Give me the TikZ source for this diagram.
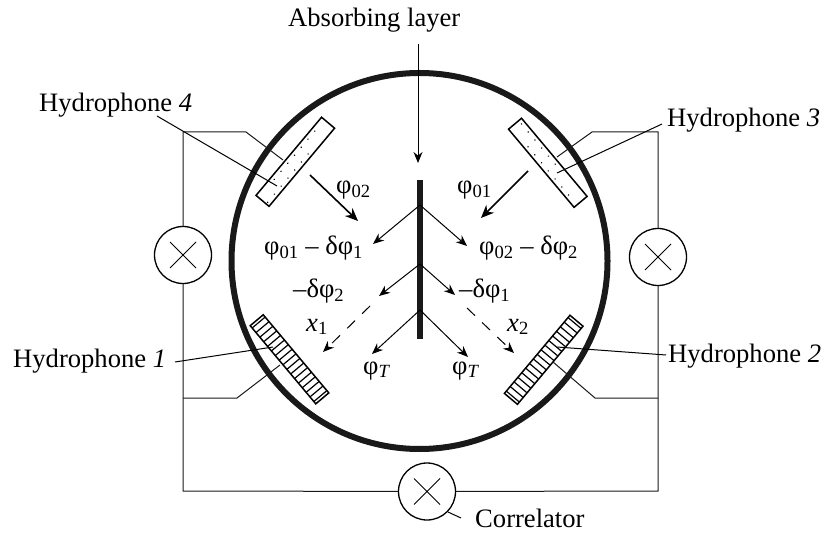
\documentclass[tikz,border=0pt]{standalone}
\usepackage{fontspec}
\setmainfont{Liberation Serif}
\usetikzlibrary{arrows.meta}
\begin{document}
\begin{tikzpicture}[
        x=1pt, y=-1pt,
        label/.style={inner sep=0pt, font=\fontsize{26.6}{30}\selectfont},
        wire/.style={line width=1pt, color=black!90},
        leader/.style={line width=1pt},
        ray/.style={-{Stealth[length=11pt, width=9pt]}, line width=1pt},
        raydash/.style={-{Stealth[length=11pt, width=9pt]}, line width=1pt, dash pattern=on 11pt off 10pt},
        bigray/.style={-{Stealth[length=13pt, width=11pt]}, line width=1.6pt},
        mixer/.style={circle, draw, line width=1.3pt, fill=white, minimum size=57pt, inner sep=0pt,
            path picture={\draw[line width=0.8pt] (-13,-13) -- (13,13) (-13,13) -- (13,-13);}},
        strip/.style={rectangle, draw, line width=1.5pt, fill=white, minimum width=102pt, minimum height=17pt, inner sep=0pt},
        hatched/.style={strip, path picture={\foreach \t in {-48,-42,...,48} \draw[line width=1.2pt] (\t,-9) -- (\t,9);}},
        speckA/.style={strip, path picture={
            \foreach \t in {-27,-16.5,...,37} \fill[black] (\t,-4.8) circle (0.8);
            \foreach \t in {-48.7,-38.2,...,15} \fill[black] (\t,4.8) circle (0.8);}},
        speckB/.style={strip, path picture={
            \foreach \t in {-46.7,-36.2,...,16} \fill[black] (\t,-4.8) circle (0.8);
            \foreach \t in {-25,-14.5,...,40} \fill[black] (\t,4.8) circle (0.8);}}
    ]
        \useasboundingbox (0,0) rectangle (821,534);

        % vessel and absorbing layer
        \node[circle, draw=black!90, line width=6pt, minimum size=376pt, inner sep=0pt] (vessel) at (419.5,261) {};
        \node[rectangle, fill=black!90, minimum width=5.5pt, minimum height=159pt, inner sep=0pt] (layer) at (420,259.5) {};

        % hydrophones
        \node[hatched, rotate=-50] (hyd1) at (289.5,359.3) {};
        \node[hatched, rotate=50] (hyd2) at (543.7,359.8) {};
        \node[speckB, rotate=-50] (hyd3) at (547.8,162.8) {};
        \node[speckA, rotate=50] (hyd4) at (295.3,161.8) {};

        % multipliers
        \node[mixer] (mixL) at (183,255) {};
        \node[mixer] (mixR) at (658,257) {};
        \node[mixer] (mixB) at (427,491.5) {};

        % wiring
        \coordinate (wire4) at (283,160);
        \coordinate (bend4) at (246,132);
        \coordinate (top4) at (183,132);
        \coordinate (wire3) at (557,157);
        \coordinate (bend3) at (592,132);
        \coordinate (top3) at (658,132);
        \coordinate (wire1) at (280,365);
        \coordinate (bend1) at (237,398);
        \coordinate (tee1) at (183,398);
        \coordinate (wire2) at (553,362);
        \coordinate (bend2) at (595,398);
        \coordinate (tee2) at (658,398);
        \coordinate (low1) at (183,491);
        \coordinate (low2) at (658,491);
        \draw[wire] (wire4) -- (bend4) -- (top4) -- (mixL);
        \draw[wire] (wire3) -- (bend3) -- (top3) -- (mixR);
        \draw[wire] (wire1) -- (bend1) -- (tee1);
        \draw[wire] (wire2) -- (bend2) -- (tee2);
        \draw[wire] (mixL) -- (low1) -- (mixB);
        \draw[wire] (mixR) -- (low2) -- (mixB);

        % labels
        \node[label, anchor=base west] (absorb) at (288,27) {Absorbing layer};
        \node[label, anchor=base west] (lab4) at (39,112) {Hydrophone \textit{4}};
        \node[label, anchor=base west] (lab3) at (667,127) {Hydrophone \textit{3}};
        \node[label, anchor=base west] (lab1) at (13,367) {Hydrophone \textit{1}};
        \node[label, anchor=base west] (lab2) at (668,362) {Hydrophone \textit{2}};
        \node[label, anchor=base west] (labC) at (475,527) {Correlator};

        % leaders
        \coordinate (tip4) at (277,186);
        \coordinate (tip3) at (557,173);
        \coordinate (tip1) at (273,347);
        \coordinate (tip2) at (557,347);
        \coordinate (from4) at (157,116);
        \coordinate (from3) at (662,124);
        \coordinate (from1) at (175,362);
        \coordinate (from2) at (666,355);
        \coordinate (footC) at (448,512);
        \coordinate (fromC) at (461,518);
        \coordinate (absTop) at (418,44);
        \coordinate (absEnd) at (418,163);
        \draw[leader] (from4) -- (tip4);
        \draw[leader] (from3) -- (tip3);
        \draw[leader] (from1) -- (tip1);
        \draw[leader] (from2) -- (tip2);
        \draw[leader] (footC) -- (fromC);
        \draw[ray] (absTop) -- (absEnd);

        % rays from the layer
        \coordinate (topA) at (420,205);
        \coordinate (midA) at (420,264);
        \coordinate (lowA) at (420,310);
        \coordinate (topL) at (373,244);
        \coordinate (topR) at (467,246);
        \coordinate (midL) at (379,296);
        \coordinate (midR) at (455,295);
        \coordinate (gapL) at (370,306);
        \coordinate (gapR) at (467,308);
        \coordinate (dashL) at (323,352);
        \coordinate (dashR) at (514,353);
        \coordinate (lowL) at (372,354);
        \coordinate (lowR) at (468,357);
        \draw[ray] (topA) -- (topL);
        \draw[ray] (topA) -- (topR);
        \draw[ray] (midA) -- (midL);
        \draw[ray] (midA) -- (midR);
        \draw[ray] (lowA) -- (lowL);
        \draw[ray] (lowA) -- (lowR);
        \draw[raydash] (gapL) -- (dashL);
        \draw[raydash] (gapR) -- (dashR);

        % incident waves
        \coordinate (in4) at (310,175);
        \coordinate (out4) at (358,221);
        \coordinate (in3) at (528,171);
        \coordinate (out3) at (481,218);
        \draw[bigray] (in4) -- (out4);
        \draw[bigray] (in3) -- (out3);

        % phase labels
        \node[label, anchor=base west] (phi02) at (336,194) {φ\textsubscript{02}};
        \node[label, anchor=base west] (phi01) at (457,194) {φ\textsubscript{01}};
        \node[label, anchor=base west] (diff1) at (264,255) {φ\textsubscript{01} – δφ\textsubscript{1}};
        \node[label, anchor=base west] (diff2) at (479,255) {φ\textsubscript{02} – δφ\textsubscript{2}};
        \node[label, anchor=base west] (dphi2) at (293,298) {–δφ\textsubscript{2}};
        \node[label, anchor=base west] (dphi1) at (459,298) {–δφ\textsubscript{1}};
        \node[label, anchor=base west] (x1) at (306,331) {\textit{x}\textsubscript{1}};
        \node[label, anchor=base west] (x2) at (507,331) {\textit{x}\textsubscript{2}};
        \node[label, anchor=base west] (phiT1) at (363,374) {φ\textsubscript{\textit{T}}};
        \node[label, anchor=base west] (phiT2) at (452,374) {φ\textsubscript{\textit{T}}};
    \end{tikzpicture}
\end{document}
